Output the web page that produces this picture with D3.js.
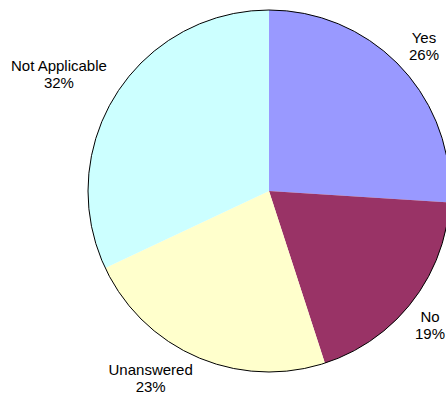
<!DOCTYPE html>
<html>
<head>
<meta charset="utf-8">
<script src="https://cdn.jsdelivr.net/npm/d3@7"></script>
<style>
html,body{margin:0;padding:0;background:#fff;}
svg{display:block;}
text{font-family:Arial,"Liberation Sans",sans-serif;font-size:15px;fill:#000;}
</style>
</head>
<body>
<svg id="chart" width="446" height="396"></svg>
<script>
const categories = ["Yes", "No", "Unanswered", "Not Applicable"];
const values = [26, 19, 23, 32];
const colors = ["#9999FF", "#993366", "#FFFFCC", "#CCFFFF"];

const W = 446, H = 396;
const cx = 269, cy = 191, R = 181;
const svg = d3.select("#chart");
const g = svg.append("g").attr("transform", `translate(${cx},${cy})`);

const data = categories.map((c, i) => ({cat: c, value: values[i], color: colors[i]}));
const pie = d3.pie().value(d => d.value).sort(null);
const arcs = pie(data);
const arc = d3.arc().innerRadius(0).outerRadius(R);

g.selectAll("path.slice").data(arcs).join("path")
  .attr("class", "slice")
  .attr("d", arc)
  .attr("fill", d => d.data.color);

g.append("circle").attr("r", R).attr("fill", "none").attr("stroke", "#000").attr("stroke-width", 1);

const total = d3.sum(values);
const lineGap = 17;
const labelR = R + 11;
arcs.forEach(a => {
  const mid = (a.startAngle + a.endAngle) / 2;
  const px = Math.sin(mid) * labelR;
  const py = -Math.cos(mid) * labelR;
  const t = g.append("text").attr("text-anchor", "middle");
  const l1 = t.append("tspan").text(a.data.cat);
  const l2 = t.append("tspan").text(Math.round(a.data.value / total * 100) + "%");
  const w = Math.max(l1.node().getComputedTextLength(), l2.node().getComputedTextLength());
  let x = px + (px >= 0 ? w / 2 : -w / 2);
  // keep inside the picture
  x = Math.min(x, W - cx - 1 - w / 2);
  x = Math.max(x, -cx + 1 + w / 2);
  let b1 = py < 0 ? py - lineGap : py + 13;
  b1 = Math.min(b1, H - cy - 4 - lineGap);
  l1.attr("x", x).attr("y", b1);
  l2.attr("x", x).attr("y", b1 + lineGap);
});
</script>
</body>
</html>
